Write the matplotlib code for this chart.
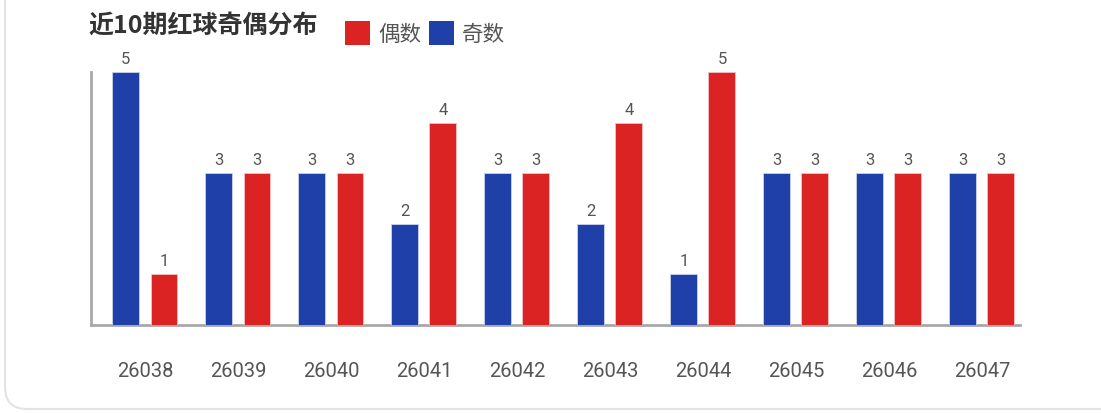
import matplotlib
matplotlib.use("Agg")
import matplotlib.pyplot as plt
from matplotlib.patches import FancyBboxPatch, Rectangle
import numpy as np

plt.rcParams["font.family"] = ["Noto Sans CJK SC", "DejaVu Sans"]

periods = ["26038", "26039", "26040", "26041", "26042",
           "26043", "26044", "26045", "26046", "26047"]
odd = [5, 3, 3, 2, 3, 2, 1, 3, 3, 3]
even = [1, 3, 3, 4, 3, 4, 5, 3, 3, 3]

BLUE = "#1f3fa9"
RED = "#db2323"
TXT = "#555555"

W, H = 1101, 414
fig = plt.figure(figsize=(W / 100, H / 100), dpi=100)

# card border (left + bottom visible, rounded corner)
card = FancyBboxPatch((5 / W, 4 / H), 1.2, 1.2, boxstyle="round,pad=0,rounding_size=0.02",
                      transform=fig.transFigure, facecolor="white",
                      edgecolor="#e3e3e3", linewidth=1.5, mutation_aspect=W / H, zorder=-5)
fig.patches.append(card)

ax = fig.add_axes([91 / W, 1 - 326 / H, (1020 - 91) / W, (326 - 73) / H])
ax.set_facecolor("none")

x = np.arange(len(periods))
bw = 0.29
off = 0.205
b1 = ax.bar(x - off, odd, bw, color=BLUE, edgecolor="#c9d3f0", linewidth=0.6, zorder=3)
b2 = ax.bar(x + off, even, bw, color=RED, edgecolor="#f3c3c3", linewidth=0.6, zorder=3)

for bars, vals in ((b1, odd), (b2, even)):
    for r, v in zip(bars, vals):
        ax.text(r.get_x() + r.get_width() / 2, v + 0.12, str(v), ha="center",
                va="bottom", fontsize=12, color=TXT, family="Roboto")

ax.set_xlim(-0.58, 9.41)
ax.set_ylim(0, 5)
ax.set_yticks([])
ax.set_xticks(x)
ax.set_xticklabels(periods, fontsize=14.5, color=TXT, family="Roboto")
ax.tick_params(axis="x", length=0, pad=26)
for s in ("top", "right"):
    ax.spines[s].set_visible(False)
ax.spines["left"].set_color("#a8a8a8")
ax.spines["bottom"].set_color("#a8a8a8")
ax.spines["left"].set_linewidth(2)
ax.spines["bottom"].set_linewidth(2)

# title and legend
fig.text(88 / W, 1 - 26 / H, "近10期红球奇偶分布", fontsize=18, fontweight="bold",
         color="#333333", va="center", ha="left")
for x0, col, lab in ((345, RED, "偶数"), (429, BLUE, "奇数")):
    fig.patches.append(Rectangle((x0 / W, 1 - 46 / H), 25 / W, 24 / H,
                                 transform=fig.transFigure, facecolor=col, edgecolor="none"))
    fig.text((x0 + 33) / W, 1 - 35 / H, lab, fontsize=15.5, color=TXT, va="center", ha="left")

fig.savefig("out.png", dpi=100)
